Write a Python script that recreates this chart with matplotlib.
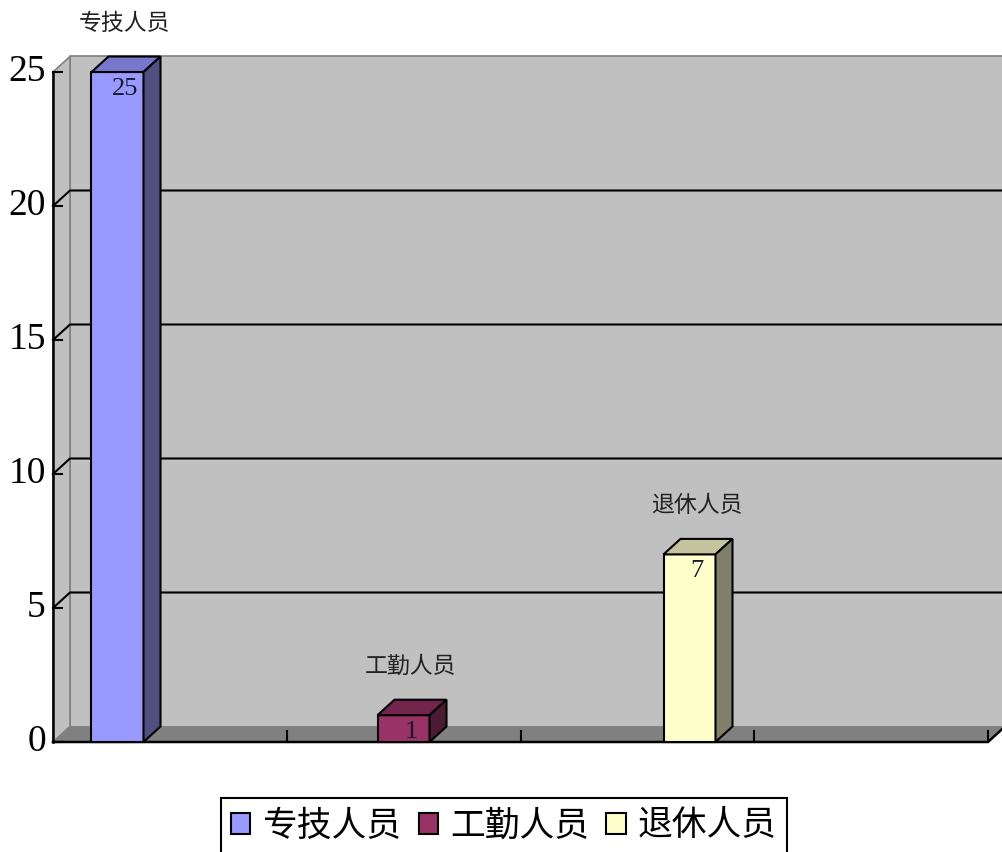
import numpy as np
import matplotlib.pyplot as plt
from matplotlib.patches import Polygon, Patch

plt.rcParams['font.family'] = ['Noto Sans CJK SC', 'DejaVu Sans']

categories = ['专技人员', '工勤人员', '退休人员']
values = [25, 1, 7]
yticks = [0, 5, 10, 15, 20, 25]
front_colors = ['#9999ff', '#993366', '#ffffcc']
top_colors = ['#7777cc', '#73264d', '#c4c49f']
side_colors = ['#4f4f80', '#4d1a33', '#80806a']

W, H = 1002, 852
fig = plt.figure(figsize=(W / 100, H / 100), dpi=100)
ax = fig.add_axes([0, 0, 1, 1])

# x: one unit per bar slot (286 px), y: value units (26.8 px each)
sx, sy = 286.0, 26.8
x0px, y0px = 117.5, 110
ax.set_xlim(-x0px / sx, (W - x0px) / sx)
ax.set_ylim(-y0px / sy, (H - y0px) / sy)
ax.axis('off')

dx, dy = 17 / sx, 15.5 / sy          # depth of the 3d look
xa, xb = (53 - x0px) / sx, (988 - x0px) / sx
ymax = yticks[-1]
xr = ax.get_xlim()[1] + 0.1

# walls and floor
ax.add_patch(Polygon([(xa + dx, dy), (xr, dy), (xr, ymax + dy), (xa + dx, ymax + dy)],
                     closed=True, fc='#c0c0c0', ec='#808080', lw=1.2))
ax.add_patch(Polygon([(xa, 0), (xa + dx, dy), (xa + dx, ymax + dy), (xa, ymax)],
                     closed=True, fc='#c0c0c0', ec='#808080', lw=1.2))
ax.add_patch(Polygon([(xa, 0), (xb, 0), (xb + dx, dy), (xa + dx, dy)],
                     closed=True, fc='#808080', ec='none'))

for t in yticks[1:-1]:
    ax.plot([xa, xa + dx, xr], [t, t + dy, t + dy], color='black', lw=1.5)

# axes lines and ticks
ax.plot([xa, xa], [0, ymax], color='black', lw=1.8)
ax.plot([xa, xb, xb + dx], [0, 0, dy], color='black', lw=1.8)
tk = 9 / sx
for t in yticks:
    ax.plot([xa, xa + tk], [t, t], color='black', lw=1.5)
    ax.text(xa - 7 / sx, t, str(t), ha='right', va='center', fontsize=27,
            family='Liberation Serif')
for k in range(1, 5):
    xt = xa + k * (xb - xa) / 4
    ax.plot([xt, xt], [0, 11 / sy], color='black', lw=1.5)

# bars
hw = 26 / sx
for i, (name, v) in enumerate(zip(categories, values)):
    ax.add_patch(Polygon([(i - hw, 0), (i + hw, 0), (i + hw, v), (i - hw, v)],
                         closed=True, fc=front_colors[i], ec='black', lw=1.5, zorder=3))
    ax.add_patch(Polygon([(i - hw, v), (i + hw, v), (i + hw + dx, v + dy), (i - hw + dx, v + dy)],
                         closed=True, fc=top_colors[i], ec='black', lw=1.5, zorder=3))
    ax.add_patch(Polygon([(i + hw, 0), (i + hw + dx, dy), (i + hw + dx, v + dy), (i + hw, v)],
                         closed=True, fc=side_colors[i], ec='black', lw=1.5, zorder=3))
    ax.text(i + 7.5 / sx, v - 17 / sy, str(v), ha='center', va='center', fontsize=19,
            family='Liberation Serif', color='#1a1a2e', zorder=4)
    ax.text(i + 7.5 / sx, v + dy + 33 / sy, name, ha='center', va='center', fontsize=16.5,
            color='#222222', zorder=4)

handles = [Patch(fc=c, ec='black', lw=1.5) for c in front_colors]
leg = fig.legend(handles, categories, loc='upper center', bbox_to_anchor=(0.503, 1 - 798 / H),
                 ncol=3, fontsize=25, frameon=True, fancybox=False, edgecolor='black',
                 framealpha=1, handlelength=0.55, handleheight=0.55, handletextpad=0.35,
                 columnspacing=0.5, borderpad=0.3, borderaxespad=0)
leg.get_frame().set_linewidth(1.5)

fig.savefig('out.png', dpi=100)
